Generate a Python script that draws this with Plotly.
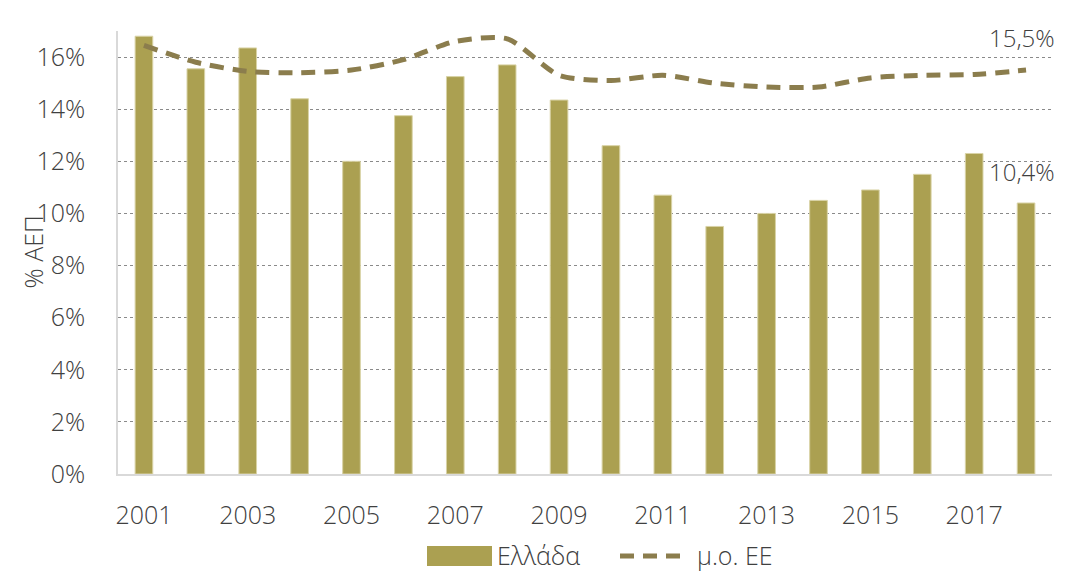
import plotly.graph_objects as go

years = list(range(2001, 2019))
greece = [16.8, 15.55, 16.35, 14.4, 12.0, 13.75, 15.25, 15.7, 14.35, 12.6,
          10.7, 9.5, 10.0, 10.5, 10.9, 11.5, 12.3, 10.4]
eu_avg = [16.45, 15.8, 15.45, 15.4, 15.5, 15.9, 16.6, 16.7, 15.3, 15.1,
          15.3, 15.0, 14.85, 14.85, 15.2, 15.3, 15.33, 15.5]
y_ticks = [0, 2, 4, 6, 8, 10, 12, 14, 16]

bar_color = "#ABA051"
line_color = "#8B7D4D"
text_color = "#404040"
font_family = "Open Sans"
light = dict(color=text_color, family=font_family, weight=300)
fs = 25


def pct_label(v):
    return f"{v:.1f}".replace(".", ",") + "%"


fig = go.Figure()

fig.add_trace(go.Bar(
    x=years,
    y=greece,
    name="Ελλάδα",
    width=0.34,
    marker=dict(color=bar_color, line=dict(color="#D9D3A6", width=1)),
    showlegend=False
))

fig.add_trace(go.Scatter(
    x=years,
    y=eu_avg,
    name="μ.ο. ΕΕ",
    mode="lines",
    line=dict(color=line_color, width=5, dash="14px,9px", shape="spline", smoothing=0.7),
    showlegend=False
))

# value labels for the last year
fig.add_annotation(x=years[-1], y=eu_avg[-1], text=pct_label(eu_avg[-1]),
                   showarrow=False, xanchor="center", yanchor="middle",
                   xshift=-4, yshift=33, font=dict(size=24, **light))
fig.add_annotation(x=years[-1], y=greece[-1], text=pct_label(greece[-1]),
                   showarrow=False, xanchor="center", yanchor="middle",
                   xshift=-4, yshift=31, font=dict(size=24, **light))

# plot area spans 118..1052 x 31..474 on the page
ph = 443
pw = 934

# y-axis title
fig.add_annotation(xref="paper", yref="paper", x=(32 - 118) / pw, y=0.5,
                   text="% ΑΕΠ", textangle=-90, showarrow=False,
                   xanchor="center", yanchor="middle", font=dict(size=fs, **light))

# custom legend
fig.add_shape(type="rect", xref="paper", yref="paper",
              x0=(427 - 118) / pw, x1=(492 - 118) / pw,
              y0=-(546 - 474) / ph, y1=-(566 - 474) / ph,
              fillcolor=bar_color, line=dict(width=0))
fig.add_annotation(xref="paper", yref="paper", x=(495 - 118) / pw, y=-(555 - 474) / ph,
                   text="Ελλάδα", showarrow=False, xanchor="left", yanchor="middle",
                   font=dict(size=fs, **light))
fig.add_shape(type="line", xref="paper", yref="paper",
              x0=(620 - 118) / pw, x1=(688 - 118) / pw,
              y0=-(556 - 474) / ph, y1=-(556 - 474) / ph,
              line=dict(color=line_color, width=5, dash="14px,9px"))
fig.add_annotation(xref="paper", yref="paper", x=(695 - 118) / pw, y=-(555 - 474) / ph,
                   text="μ.ο. ΕΕ", showarrow=False, xanchor="left", yanchor="middle",
                   font=dict(size=fs, **light))

# the page body adds an 8px margin, so the figure is offset by 8px
fig.update_layout(
    width=1057,
    height=568,
    margin=dict(l=110, r=13, t=23, b=102),
    plot_bgcolor="white",
    paper_bgcolor="white",
    font=dict(size=fs, **light),
)

fig.update_xaxes(
    range=[2000.5, 2018.5],
    tickmode="linear",
    tick0=2001,
    dtick=2,
    showgrid=False,
    showline=True,
    linecolor="#D9D9D9",
    linewidth=1.5,
    ticks="",
    ticklabelstandoff=18,
    automargin=False,
    tickfont=dict(size=fs, **light),
)

fig.update_yaxes(
    range=[0, 17],
    tickvals=y_ticks,
    ticktext=[f"{v}%" for v in y_ticks],
    showgrid=True,
    gridcolor="#8A8A8A",
    griddash="dot",
    gridwidth=1,
    zeroline=False,
    showline=True,
    linecolor="#D9D9D9",
    linewidth=1.5,
    ticklabelstandoff=26,
    automargin=False,
    tickfont=dict(size=fs, **light),
)

fig.write_html("out.html")
